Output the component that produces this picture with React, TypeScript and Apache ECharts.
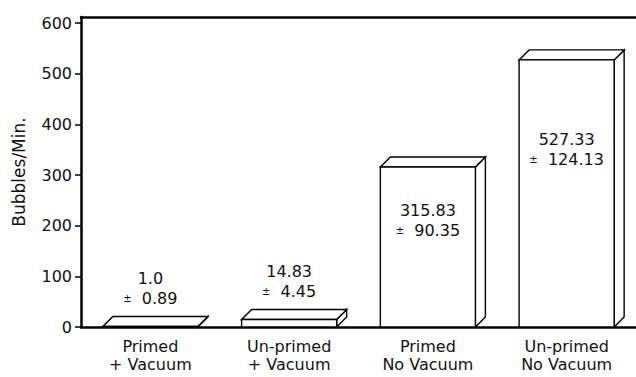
import React, { useEffect, useRef } from "react";
import * as echarts from "echarts";

const categories = ["Primed\n+ Vacuum", "Un-primed\n+ Vacuum", "Primed\nNo Vacuum", "Un-primed\nNo Vacuum"];
const means = [1.0, 14.83, 315.83, 527.33];
const meanLabels = ["1.0", "14.83", "315.83", "527.33"];
const sdLabels = ["0.89", "4.45", "90.35", "124.13"];
const yTicks = [0, 100, 200, 300, 400, 500, 600];

const FONT = "'DejaVu Sans', 'Liberation Sans', Arial, sans-serif";

export default function App() {
  const ref = useRef<HTMLDivElement>(null);
  useEffect(() => {
    if (!ref.current) return;
    const chart = echarts.init(ref.current, undefined, { renderer: "svg" });
    const depth = 10;
    chart.setOption({
      animation: false,
      backgroundColor: "#fff",
      grid: { left: 81, right: 0, top: 17, bottom: 50 },
      xAxis: [
        {
          type: "category",
          data: categories,
          position: "bottom",
          axisLine: { show: true, lineStyle: { color: "#000", width: 2.5 } },
          axisTick: { show: false },
          axisLabel: {
            color: "#111",
            fontFamily: FONT,
            fontSize: 16,
            lineHeight: 18,
            margin: 10,
            interval: 0,
          },
        },
        {
          type: "category",
          data: categories,
          position: "top",
          axisLine: { show: true, lineStyle: { color: "#000", width: 2.5 } },
          axisTick: { show: false },
          axisLabel: { show: false },
        },
      ],
      yAxis: {
        type: "value",
        min: 0,
        max: 612,
        interval: 100,
        name: "Bubbles/Min.",
        nameLocation: "middle",
        nameGap: 54,
        nameTextStyle: { color: "#111", fontFamily: FONT, fontSize: 17 },
        axisLine: { show: true, lineStyle: { color: "#000", width: 2.5 } },
        axisTick: { show: true, length: 6, lineStyle: { color: "#000", width: 1.5 } },
        axisLabel: {
          color: "#111",
          fontFamily: FONT,
          fontSize: 16,
          margin: 9,
          showMaxLabel: false,
          formatter: (v: number) => (yTicks.includes(v) ? String(v) : ""),
        },
        splitLine: { show: false },
      },
      series: [
        {
          type: "custom",
          xAxisIndex: 0,
          data: means.map((v, i) => [i, v]),
          encode: { x: 0, y: 1 },
          renderItem: (params: any, api: any) => {
            const idx = api.value(0);
            const v = api.value(1);
            const top = api.coord([idx, v]);
            const base = api.coord([idx, 0]);
            const band = api.size([1, 0])[0];
            const w = band * 0.685;
            const x0 = top[0] - w / 2;
            const x1 = top[0] + w / 2;
            const yT = top[1];
            const yB = base[1];
            const h = yB - yT;
            const stroke = { fill: "#fff", stroke: "#000", lineWidth: 1.4 };
            const mid = h > 60 ? yT + 0.335 * h : yT - depth - 28;
            const cx = top[0];
            return {
              type: "group",
              children: [
                {
                  type: "polygon",
                  shape: { points: [[x1, yT], [x1 + depth, yT - depth], [x1 + depth, yB - depth], [x1, yB]] },
                  style: stroke,
                },
                {
                  type: "polygon",
                  shape: { points: [[x0, yT], [x0 + depth, yT - depth], [x1 + depth, yT - depth], [x1, yT]] },
                  style: stroke,
                },
                {
                  type: "rect",
                  shape: { x: x0, y: yT, width: w, height: Math.max(h, 0.5) },
                  style: stroke,
                },
                {
                  type: "text",
                  x: cx,
                  y: mid - 10,
                  style: {
                    text: meanLabels[idx],
                    fill: "#111",
                    font: `16px ${FONT}`,
                    align: "center",
                    verticalAlign: "middle",
                  },
                },
                {
                  type: "text",
                  x: cx,
                  y: mid + 10,
                  style: {
                    text: "{pm|±}  " + sdLabels[idx],
                    fill: "#111",
                    font: `16px ${FONT}`,
                    align: "center",
                    verticalAlign: "middle",
                    rich: {
                      pm: { fontSize: 10, fontFamily: FONT, fill: "#111" },
                    },
                  },
                },
              ],
            };
          },
        },
      ],
    });
    return () => chart.dispose();
  }, []);
  return (
    <div
      ref={ref}
      style={{ position: "fixed", left: 0, top: 0, width: 636, height: 377, background: "#fff" }}
    />
  );
}
